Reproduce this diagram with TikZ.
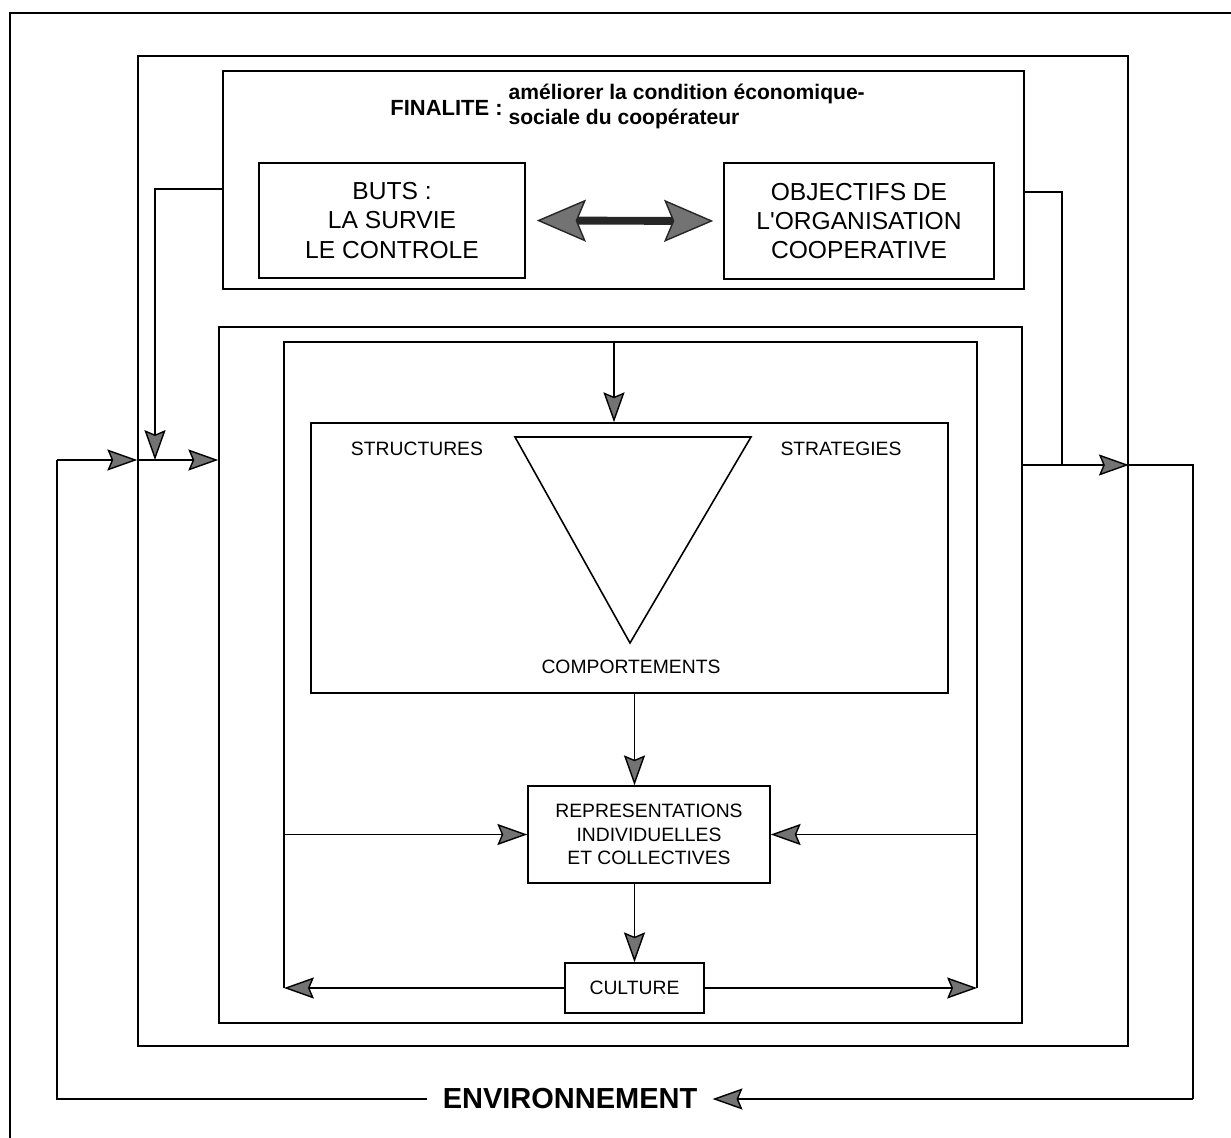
\documentclass[tikz,border=0pt]{standalone}
\usepackage{fontspec}
\setmainfont{Liberation Sans}
\usetikzlibrary{arrows.meta}
\usetikzlibrary{positioning}
\usetikzlibrary{fit}
\tikzset{
  frame_box/.style = {draw=black, line width=0.9pt, inner sep=0pt},
  text_box/.style = {draw=black, line width=0.9pt, align=center, inner sep=0pt,
    font=\fontsize{14}{16.6}\selectfont},
  small_box/.style = {text_box, font=\fontsize{11}{13.3}\selectfont},
  small_lbl/.style = {inner sep=0pt, font=\fontsize{11}{13.3}\selectfont},
  link/.style = {line width=0.8pt},
  flow/.style = {link, -{Stealth[length=17pt, width=12pt, inset=2.5pt, fill=black!55]}},
  big_arrow/.style = {line width=4.5pt, draw=black!85,
    {Stealth[length=28pt, width=24pt, inset=5pt, fill=black!55, line width=0.8pt]}-{Stealth[length=28pt, width=24pt, inset=5pt, fill=black!55, line width=0.8pt]}}
}
\begin{document}
\begin{tikzpicture}[x=0.02cm, y=-0.02cm]
  \useasboundingbox (0,0) rectangle (1231,1138);
  \draw[link] (10,1138) -- (10,13) -- (1231,13);

  % frames
  \coordinate (sysA) at (138,56);   \coordinate (sysB) at (1128,1046);
  \coordinate (finA) at (223,71);   \coordinate (finB) at (1024,289);
  \coordinate (orgA) at (219,327);  \coordinate (orgB) at (1022,1023);
  \coordinate (sdtA) at (311,423);  \coordinate (sdtB) at (948,693);
  \node[frame_box, fit=(sysA)(sysB)] (sys) {};
  \node[frame_box, fit=(finA)(finB)] (fin) {};
  \node[frame_box, fit=(orgA)(orgB)] (org) {};
  \node[frame_box, fit=(sdtA)(sdtB)] (sdt) {};

  % finalite
  \node[anchor=east, inner sep=0pt, font=\fontsize{12.5}{12.5}\selectfont\bfseries] (finlbl) at (503,108) {FINALITE :};
  \node[anchor=west, align=left, inner sep=0pt, font=\fontsize{12}{14}\selectfont\bfseries,
    right=3pt of finlbl.east, yshift=1pt] (fintxt) {améliorer la condition économique-\\sociale du coopérateur};
  \node[text_box, minimum width=5.32cm, minimum height=2.3cm] (buts) at (392,220.5) {BUTS :\\LA SURVIE\\LE CONTROLE};
  \node[text_box, minimum width=5.4cm, minimum height=2.32cm] (obj) at (859,221) {OBJECTIFS DE\\L\textquotesingle ORGANISATION\\COOPERATIVE};
  \draw[big_arrow, shorten <=0.22cm, shorten >=0.2cm] (buts.east) -- (obj.west);

  % inner organisation
  \coordinate (c3L) at (284,342);
  \coordinate (c3R) at (977,342);
  \coordinate (in3) at (614,342);
  \draw[line width=0.9pt] (515,437) -- (751,437) -- (630,643) -- cycle;
  \node[small_lbl] (struct) at (417,449) {STRUCTURES};
  \node[small_lbl] (strat) at (841,449) {STRATEGIES};
  \node[small_lbl] (comport) at (631,667) {COMPORTEMENTS};
  \node[small_box, minimum width=4.84cm, minimum height=1.94cm] (rep) at (649,834.5) {REPRESENTATIONS\\INDIVIDUELLES\\ET COLLECTIVES};
  \node[small_box, minimum width=2.78cm, minimum height=1.0cm] (cult) at (634.5,988) {CULTURE};
  \draw[link] (cult.west -| c3L) -- (c3L) -- (c3R) -- (cult.east -| c3R);
  \draw[flow] (in3) -- (in3 |- sdt.north);
  \draw[flow] (sdt.south -| cult.north) -- (rep.north -| cult.north);
  \draw[flow] (rep.south -| cult.north) -- (cult.north);
  \draw[flow] (rep.west -| c3L) -- (rep.west);
  \draw[flow] (rep.east -| c3R) -- (rep.east);
  \draw[flow] (cult.west) -- (cult.west -| c3L);
  \draw[flow] (cult.east) -- (cult.east -| c3R);

  % environnement loop
  \node[inner sep=0.3cm, font=\fontsize{16.5}{19}\selectfont\bfseries] (env) at (570,1099) {ENVIRONNEMENT};
  \coordinate (envL) at (57,460);
  \coordinate (envR) at (1193,465);
  \coordinate (fbL) at (155,189);
  \coordinate (fbR) at (1062,192);
  \draw[link] (env.west) -- (envL |- env) -- (envL);
  \draw[flow] (envL) -- (sys.west |- envL);
  \draw[flow] (sys.west |- envL) -- (org.west |- envL);
  \draw[flow] (fin.west |- fbL) -- (fbL) -- (fbL |- envL);
  \draw[link] (fin.east |- fbR) -- (fbR) -- (fbR |- envR);
  \draw[flow] (org.east |- envR) -- (sys.east |- envR);
  \draw[link] (sys.east |- envR) -- (envR) -- (envR |- env);
  \draw[flow] (envR |- env) -- (env.east);
\end{tikzpicture}
\end{document}
